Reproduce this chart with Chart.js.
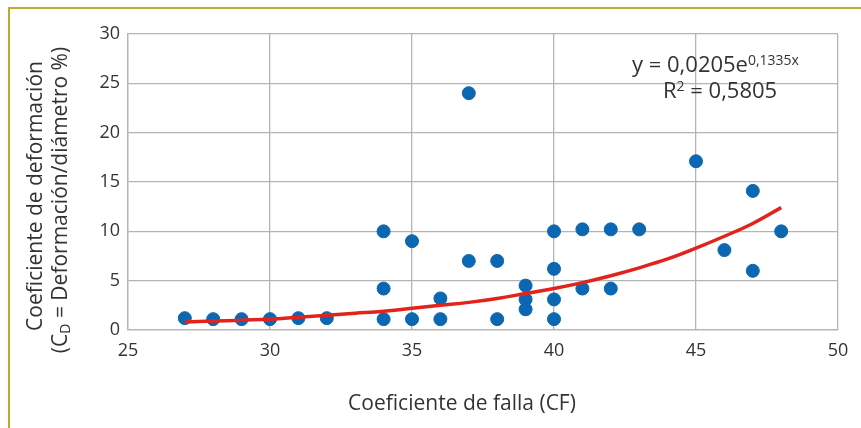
<!DOCTYPE html>
<html>
<head>
<meta charset="utf-8">
<script src="https://cdn.jsdelivr.net/npm/chart.js@4.4.1/dist/chart.umd.min.js"></script>
<style>
  html, body { margin: 0; padding: 0; background: #fff; }
  #wrap { width: 861px; height: 428px; position: relative; }
</style>
</head>
<body>
<div id="wrap"><canvas id="fallaChart"></canvas></div>
<script>
// Puntos medidos: coeficiente de falla (x) y coeficiente de deformación (y)
var cfValues = [27, 28, 29, 30, 31, 32, 34, 34, 34, 35, 35, 36, 36, 37, 37, 38, 38,
                39, 39, 39, 40, 40, 40, 40, 41, 41, 42, 42, 43, 45, 46, 47, 47, 48];
var cdValues = [1.2, 1.1, 1.1, 1.1, 1.2, 1.2, 10, 4.2, 1.1, 9, 1.1, 3.2, 1.1, 24, 7, 7, 1.1,
                4.5, 3.1, 2.1, 10, 6.2, 3.1, 1.1, 10.2, 4.2, 10.2, 4.2, 10.2, 17.1, 8.1, 14.1, 6, 10];

var trendX = [27, 28, 29, 30, 31, 32, 33, 34, 35, 36, 37, 38, 39, 40, 41, 42, 43, 44, 45, 46, 47, 48];
var trendY = [0.8, 0.9, 1.0, 1.1, 1.3, 1.5, 1.7, 1.9, 2.2, 2.5, 2.8, 3.2, 3.7, 4.2, 4.8, 5.5,
              6.3, 7.2, 8.3, 9.5, 10.8, 12.4];

var xTicks = [25, 30, 35, 40, 45, 50];
var yTicks = [0, 5, 10, 15, 20, 25, 30];

var FONT = '"Open Sans", "Noto Sans", sans-serif';
var TEXT = '#333333';

function toPoints(xs, ys) {
    var out = [];
    for (var i = 0; i < xs.length; i++) out.push({ x: xs[i], y: ys[i] });
    return out;
}

// texto con un trozo en sub/superíndice: parts = [[texto, tamaño, desplazamiento y], ...]
function drawRich(ctx, parts, x, y, align) {
    var total = 0, widths = [];
    parts.forEach(function(p) {
        ctx.font = p[1] + 'px ' + FONT;
        var w = ctx.measureText(p[0]).width;
        widths.push(w);
        total += w;
    });
    var cx = align === 'center' ? x - total / 2 : x;
    ctx.textAlign = 'left';
    parts.forEach(function(p, i) {
        ctx.font = p[1] + 'px ' + FONT;
        ctx.fillText(p[0], cx, y + p[2]);
        cx += widths[i];
    });
}

// Marco, títulos de los ejes y ecuación
var extras = {
    id: 'extras',
    afterDraw: function(chart) {
        var ctx = chart.ctx;
        ctx.save();

        // marco amarillo
        ctx.strokeStyle = '#bcaa2e';
        ctx.lineWidth = 2;
        ctx.beginPath();
        ctx.moveTo(9, 428);
        ctx.lineTo(9, 8);
        ctx.lineTo(861, 8);
        ctx.stroke();

        ctx.fillStyle = TEXT;
        ctx.textBaseline = 'middle';

        // título eje X
        drawRich(ctx, [['Coeficiente de falla (CF)', 21, 0]], 462, 404, 'center');

        // título eje Y
        ctx.save();
        ctx.translate(36, 196);
        ctx.rotate(-Math.PI / 2);
        drawRich(ctx, [['Coeficiente de deformación', 21, 0]], 0, 0, 'center');
        ctx.restore();

        ctx.save();
        ctx.translate(61, 200);
        ctx.rotate(-Math.PI / 2);
        drawRich(ctx, [['(C', 21, 0], ['D', 14, 5], [' = Deformación/diámetro %)', 21, 0]], 0, 0, 'center');
        ctx.restore();

        // ecuación
        drawRich(ctx, [['y = 0,0205e', 22, 0], ['0,1335x', 14, -5]], 632, 66, 'left');
        drawRich(ctx, [['R', 22, 0], ['2', 14, -5], [' = 0,5805', 22, 0]], 663, 92, 'left');

        ctx.restore();
    }
};

var chart = new Chart(document.getElementById('fallaChart'), {
    type: 'scatter',
    data: {
        datasets: [{
            type: 'line',
            label: 'Tendencia',
            data: toPoints(trendX, trendY),
            borderColor: '#e3231b',
            borderWidth: 3.5,
            pointRadius: 0,
            tension: 0.4,
            fill: false,
            order: 0
        }, {
            label: 'CD',
            data: toPoints(cfValues, cdValues),
            backgroundColor: '#0b67b2',
            borderColor: '#0b67b2',
            pointRadius: 6.5,
            order: 1
        }]
    },
    options: {
        responsive: true,
        maintainAspectRatio: false,
        animation: false,
        layout: { padding: { left: 80, top: 34, right: 23, bottom: 0 } },
        plugins: {
            legend: { display: false },
            tooltip: { enabled: false }
        },
        scales: {
            x: {
                type: 'linear',
                min: 25, max: 50,
                afterBuildTicks: function(s) { s.ticks = xTicks.map(function(v) { return { value: v }; }); },
                afterFit: function(s) { s.height = 98; },
                grid: { color: '#b4b4b4', lineWidth: 1.3, drawTicks: false },
                border: { color: '#b4b4b4', width: 1.3 },
                ticks: { color: TEXT, font: { size: 18, family: FONT }, padding: 10, maxRotation: 0 }
            },
            y: {
                min: 0, max: 30,
                afterBuildTicks: function(s) { s.ticks = yTicks.map(function(v) { return { value: v }; }); },
                afterFit: function(s) { s.width = 48; },
                grid: { color: '#b4b4b4', lineWidth: 1.3, drawTicks: false },
                border: { color: '#b4b4b4', width: 1.3 },
                ticks: { color: TEXT, font: { size: 18, family: FONT }, padding: 8 }
            }
        }
    },
    plugins: [extras]
});
</script>
</body>
</html>
